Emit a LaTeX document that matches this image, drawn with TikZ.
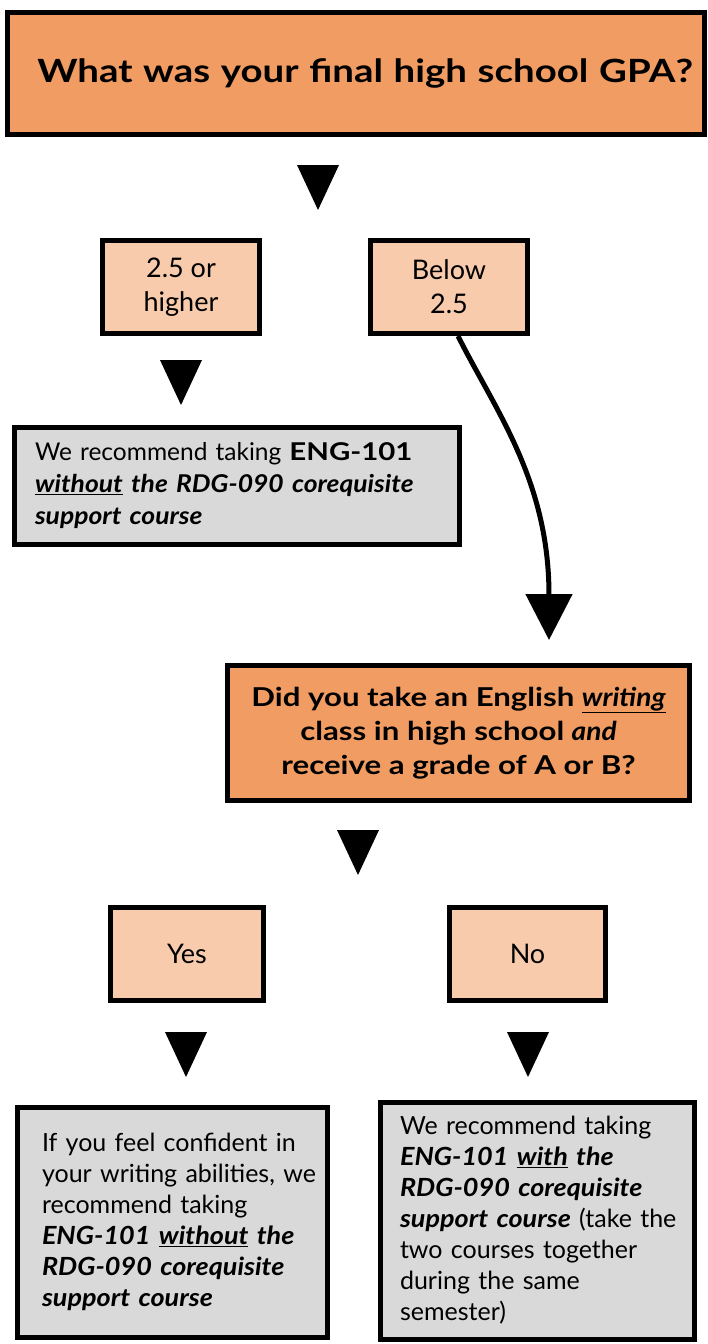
\documentclass[tikz,border=0pt]{standalone}
\usepackage{fontspec}
\setmainfont{Lato}[BoldFeatures={FakeStretch=1.2}, BoldItalicFeatures={FakeStretch=1.08}]
\usetikzlibrary{arrows.meta}
\definecolor{qorange}{HTML}{F19C62}
\definecolor{apeach}{HTML}{F8CBAD}
\definecolor{rgray}{HTML}{D9D9D9}
\newcommand{\advlines}[1]{\begin{tabular}{@{}l@{}}#1\end{tabular}}
\begin{document}
\begin{tikzpicture}[
      x=1pt, y=-1pt,
      box/.style={draw, line width=5pt, rectangle, inner sep=0pt},
      question/.style={box, fill=qorange, align=center, font=\bfseries},
      answer/.style={box, fill=apeach, align=center, font=\fontsize{27}{34}\selectfont},
      advice/.style={box, fill=rgray, align=left, font=\fontsize{25}{31}\selectfont},
      bigarrow/.style={line width=5pt, -{Triangle[length=46pt, width=46pt]}},
    ]
      \useasboundingbox (0,0) rectangle (708,1344);
      \node[question, minimum width=697pt, minimum height=122pt, text width=674pt, align=right,
        font=\fontsize{32}{36}\bfseries] (gpa) at (356,73.5)
        {What was your final high school GPA?};
      \node[answer, minimum width=157pt, minimum height=93pt] (high) at (181,287)
        {2.5 or\\higher};
      \node[answer, minimum width=157pt, minimum height=93pt] (low) at (449,287)
        {Below\\2.5};
      \node[advice, minimum width=445pt, minimum height=117pt, text width=404pt,
        font=\fontsize{24.5}{32}\selectfont] (nocoreq) at (237,486)
        {\advlines{We recommend taking \textbf{ENG-101}\\
         \textbf{\textit{\underline{without} the RDG-090 corequisite}}\\
         \textbf{\textit{support course}}}};
      \node[question, minimum width=462pt, minimum height=135pt,
        font=\fontsize{26}{34}\bfseries] (writing) at (458.5,733)
        {Did you take an English \textit{\underline{writing}}\\
         class in high school \textit{and}\\
         receive a grade of A or B?};
      \node[answer, minimum width=153pt, minimum height=93pt] (yes) at (187,954) {Yes};
      \node[answer, minimum width=156pt, minimum height=93pt] (no) at (527.5,954) {No};
      \node[advice, minimum width=310pt, minimum height=230pt, text width=261pt] (yesrec) at (172.5,1222.5)
        {\advlines{If you feel confident in\\
         your writing abilities, we\\
         recommend taking\\
         \textbf{\textit{ENG-101 \underline{without} the}}\\
         \textbf{\textit{RDG-090 corequisite}}\\
         \textbf{\textit{support course}}}};
      \node[advice, minimum width=314pt, minimum height=237pt, text width=275pt] (norec) at (537.5,1221)
        {\advlines{We recommend taking\\
         \textbf{\textit{ENG-101 \underline{with} the}}\\
         \textbf{\textit{RDG-090 corequisite}}\\
         \textbf{\textit{support course}} (take the\\
         two courses together\\
         during the same\\
         semester)}};
      \foreach \tx/\ty in {318/165, 181/360, 358/830, 186/1032, 528/1032}
        \fill (\tx-21,\ty) -- (\tx+21,\ty) -- (\tx,\ty+45) -- cycle;
      \coordinate (tipend) at (549,640);
      \draw[bigarrow] (low.south -| 458,0) .. controls (495,410) and (549,480) .. (tipend);
    \end{tikzpicture}
\end{document}
